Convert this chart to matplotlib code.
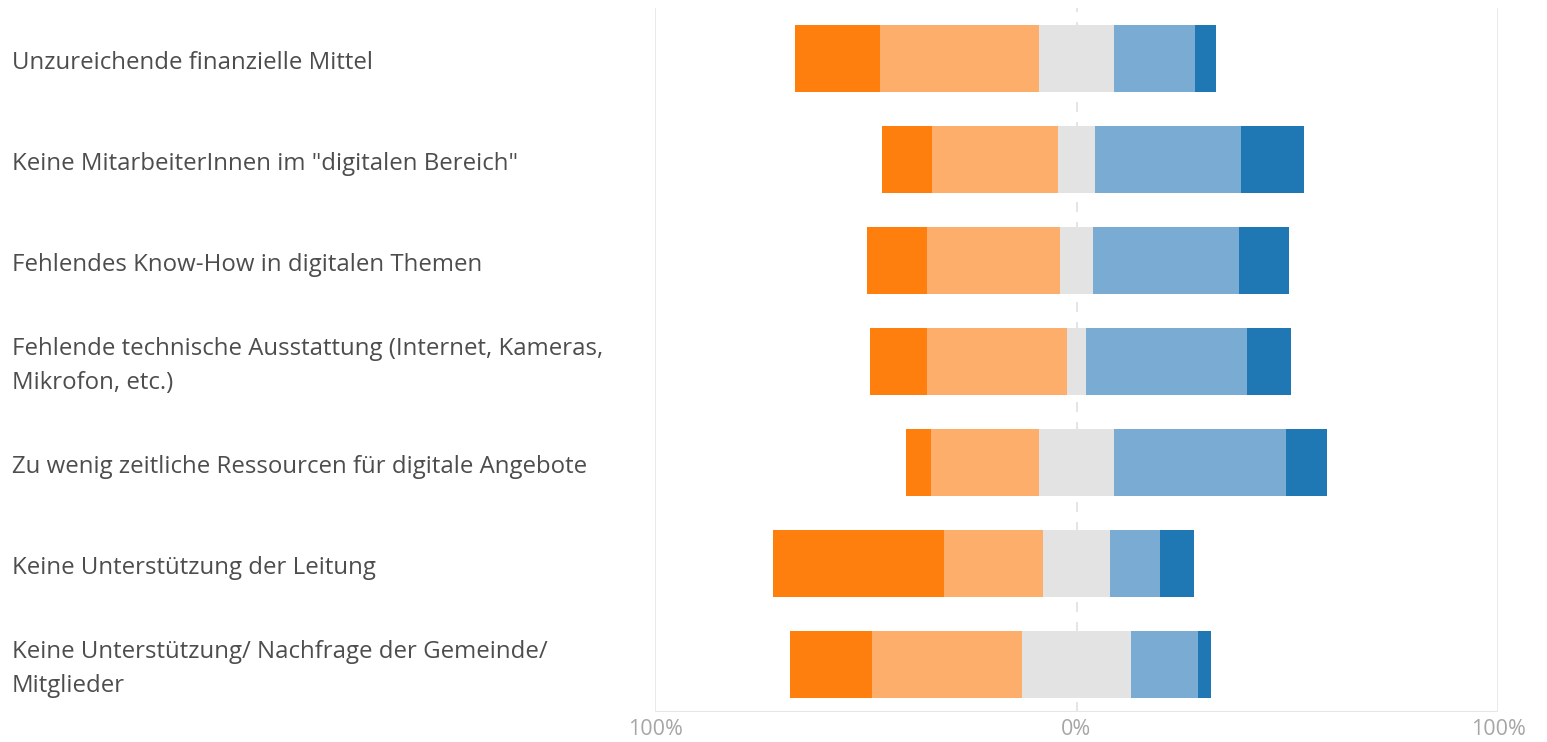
import numpy as np
import matplotlib.pyplot as plt

# Hindernisse fuer digitale Angebote, Anteile in Prozent je Antwortstufe
hindernisse = [
    "Unzureichende finanzielle Mittel",
    "Keine MitarbeiterInnen im \"digitalen Bereich\"",
    "Fehlendes Know-How in digitalen Themen",
    "Fehlende technische Ausstattung (Internet, Kameras,\nMikrofon, etc.)",
    "Zu wenig zeitliche Ressourcen für digitale Angebote",
    "Keine Unterstützung der Leitung",
    "Keine Unterstützung/ Nachfrage der Gemeinde/\nMitglieder",
]
trifft_gar_nicht_zu = [20.2, 11.9, 14.2, 13.4, 5.9, 40.6, 19.5]
trifft_eher_nicht_zu = [37.7, 29.9, 31.6, 33.2, 25.6, 23.5, 35.6]
teils_teils = [18.0, 8.8, 7.8, 4.7, 18.0, 15.9, 25.9]
trifft_eher_zu = [19.0, 34.6, 34.6, 38.1, 40.6, 11.9, 15.9]
trifft_voll_zu = [5.0, 14.9, 11.9, 10.5, 9.9, 8.1, 3.1]

x_ticks = [-100, 0, 100]
x_tick_labels = ["100%", "0%", "100%"]

farben = ["#ff7f0e", "#fdae6b", "#e3e3e3", "#7aabd3", "#1f77b4"]

plt.rcParams['font.family'] = ['Open Sans', 'DejaVu Sans']

fig = plt.figure(figsize=(15.47, 7.42), dpi=100)
ax = fig.add_axes([655 / 1547, 1 - 712 / 742, (1498 - 655) / 1547, (712 - 8) / 742])

y = np.arange(len(hindernisse))
stufen = np.array([trifft_gar_nicht_zu, trifft_eher_nicht_zu, teils_teils,
                   trifft_eher_zu, trifft_voll_zu])

# Balken so verschieben, dass die Mitte von "teils/teils" auf 0 liegt
start = -(stufen[0] + stufen[1] + stufen[2] / 2)
links = start.copy()
for werte, farbe in zip(stufen, farben):
    ax.barh(y, werte, left=links, height=0.67, color=farbe, zorder=3)
    links = links + werte

ax.set_xlim(-100, 100)
ax.set_ylim(6.47, -0.5)

ax.axvline(0, color="#e0e0e0", lw=1.2, ls=(0, (6, 6)), zorder=1)
for xv in (-100, 100):
    ax.axvline(xv, color="#e6e6e6", lw=1.2, zorder=1)
ax.axhline(6.47, color="#e6e6e6", lw=1.5, zorder=1)

for s in ax.spines.values():
    s.set_visible(False)

ax.set_xticks(x_ticks)
ax.set_xticklabels(x_tick_labels, color="#a6a6a6", fontsize=15.5)
ax.tick_params(axis="x", length=0, pad=5)
ax.set_yticks([])

for yi, text in zip(y, hindernisse):
    y_px = ax.transData.transform((0, yi))[1] - 4.5
    fig.text(12 / 1547, y_px / 742, text,
             ha="left", va="center", fontsize=17.3, color="#4d4d4d",
             linespacing=1.58)

fig.savefig("out.png", dpi=100, facecolor="white")
